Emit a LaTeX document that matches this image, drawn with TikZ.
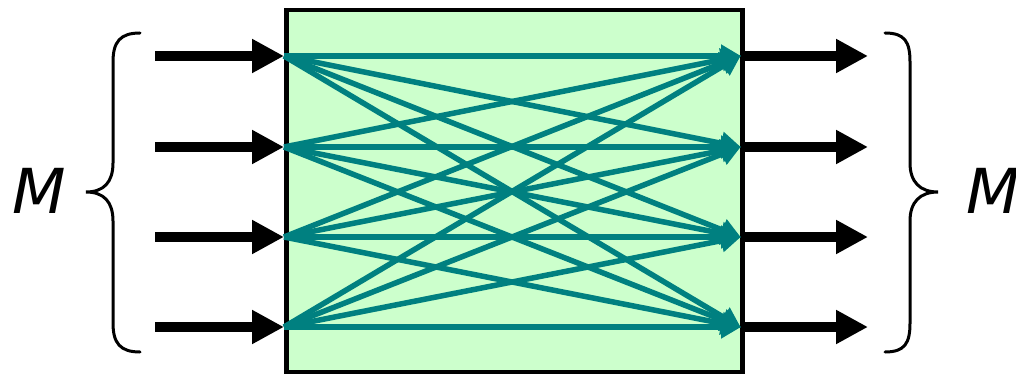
\documentclass[tikz,border=0pt]{standalone}
\usepackage{fontspec}
\newfontfamily\mfont{DejaVu Sans}
\usetikzlibrary{arrows.meta}
\definecolor{boxgreen}{RGB}{204,255,204}
\definecolor{tealc}{RGB}{0,128,128}
\tikzset{
  bigarrow/.style={line width=10pt,-{Triangle[length=32pt,width=32pt]}},
  link/.style={draw=tealc,line width=5.5pt,-{Triangle[length=20pt,width=22pt]},shorten >=-1pt},
  brace/.style={line width=3pt,line cap=round},
  mlabel/.style={font=\mfont\itshape\fontsize{62}{62}\selectfont,inner sep=0pt}
}
\begin{document}
\begin{tikzpicture}[x=1pt,y=-1pt]
\useasboundingbox (0,0) rectangle (1016,374);
\node[draw=black,fill=boxgreen,line width=4.5pt,minimum width=456pt,minimum height=362pt,inner sep=0pt,anchor=north west] (box) at (284,8) {};
\foreach \i/\y in {1/56,2/147,3/237,4/327}{
  \coordinate (L\i) at (284,\y);
  \coordinate (R\i) at (740,\y);
  \coordinate (A\i) at (155,\y);
  \coordinate (B\i) at (868,\y);
}
\foreach \i in {1,...,4}{
  \draw[bigarrow] (A\i) -- (L\i);
  \draw[bigarrow] (R\i) -- (B\i);
}
\foreach \i in {1,...,4}{
  \foreach \j in {1,...,4}{
    \draw[link] (L\i) -- (R\j);
  }
}
% braces
\draw[brace] (140,33) .. controls (120,33) and (113,42) .. (113,62)
  -- (113,163) .. controls (113,182) and (104,192) .. (86,192)
  .. controls (104,192) and (113,202) .. (113,221)
  -- (113,323) .. controls (113,343) and (120,352) .. (140,352);
\draw[brace] (885,33) .. controls (905,33) and (910,42) .. (910,62)
  -- (910,163) .. controls (910,182) and (920,192) .. (938,192)
  .. controls (920,192) and (910,202) .. (910,221)
  -- (910,323) .. controls (910,343) and (905,352) .. (885,352);
\node[mlabel] (ml) at (39,191) {M};
\node[mlabel,anchor=west] (mr) at (966,191) {M};
\end{tikzpicture}
\end{document}
